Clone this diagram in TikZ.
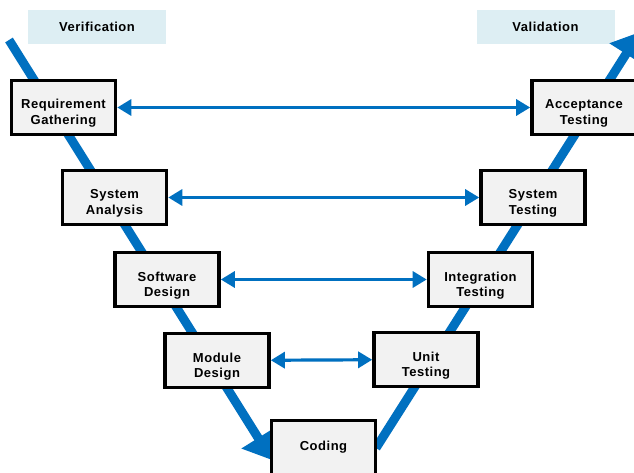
\documentclass[tikz,border=0pt]{standalone}
\usepackage{fontspec}
\setmainfont[LetterSpace=4]{Liberation Sans}
\definecolor{Vblue}{HTML}{0070C0}
\definecolor{boxgray}{HTML}{F2F2F2}
\definecolor{headblue}{HTML}{DDEEF3}
\usetikzlibrary{arrows.meta,shadows}

\begin{document}
\begin{tikzpicture}[
  x=1pt,y=-1pt,
  box/.style={draw=black,line width=3.6pt,fill=boxgray,align=center,
    minimum width=104pt,minimum height=54pt,inner sep=0pt,
    font=\fontsize{13}{15.5}\selectfont\bfseries,
    drop shadow={shadow xshift=1pt,shadow yshift=-1pt,fill=black!35,opacity=0.6}},
  twoline/.style={text height=40pt,text depth=6pt},
  head/.style={fill=headblue,minimum width=138pt,minimum height=34pt,inner sep=0pt,
    font=\fontsize{13}{15}\selectfont\bfseries},
  vline/.style={Vblue,line width=9pt,-{Triangle[length=26pt,width=38pt]}},
  arr/.style={Vblue,line width=3.2pt,{Triangle[length=14pt,width=16pt]}-{Triangle[length=14pt,width=16pt]}}
]
\useasboundingbox (0,0) rectangle (634,473);
\fill[white] (0,0) rectangle (634,473);

\node[head] (verif) at (97,27) {Verification};
\node[head] (valid) at (545.5,27) {Validation};

% the V
\coordinate (vstart) at (9,40);
\coordinate (vtip) at (272,460);
\coordinate (vbottom) at (376,448);
\coordinate (vend) at (640,32);
\draw[vline] (vstart) -- (vtip);
\draw[vline] (vbottom) -- (vend);

\node[box,twoline] (req) at (63.5,107.5) {Requirement\\Gathering};
\node[box,twoline] (sysan) at (114.5,197.5) {System\\Analysis};
\node[box,twoline] (swdes) at (167,279.5) {Software\\Design};
\node[box,twoline] (moddes) at (217,360.5) {Module\\Design};
\node[box] (coding) at (323.5,447.5) {Coding};
\node[box,twoline] (unit) at (426,359.5) {Unit\\Testing};
\node[box,twoline] (integ) at (480.5,279.5) {Integration\\Testing};
\node[box,twoline] (systest) at (533,197.5) {System\\Testing};
\node[box,twoline] (accept) at (584,107.5) {Acceptance\\Testing};

\draw[arr] (req) -- (accept);
\draw[arr] (sysan) -- (systest);
\draw[arr] (swdes) -- (integ);
\draw[arr] (moddes) -- (unit);
\end{tikzpicture}
\end{document}
